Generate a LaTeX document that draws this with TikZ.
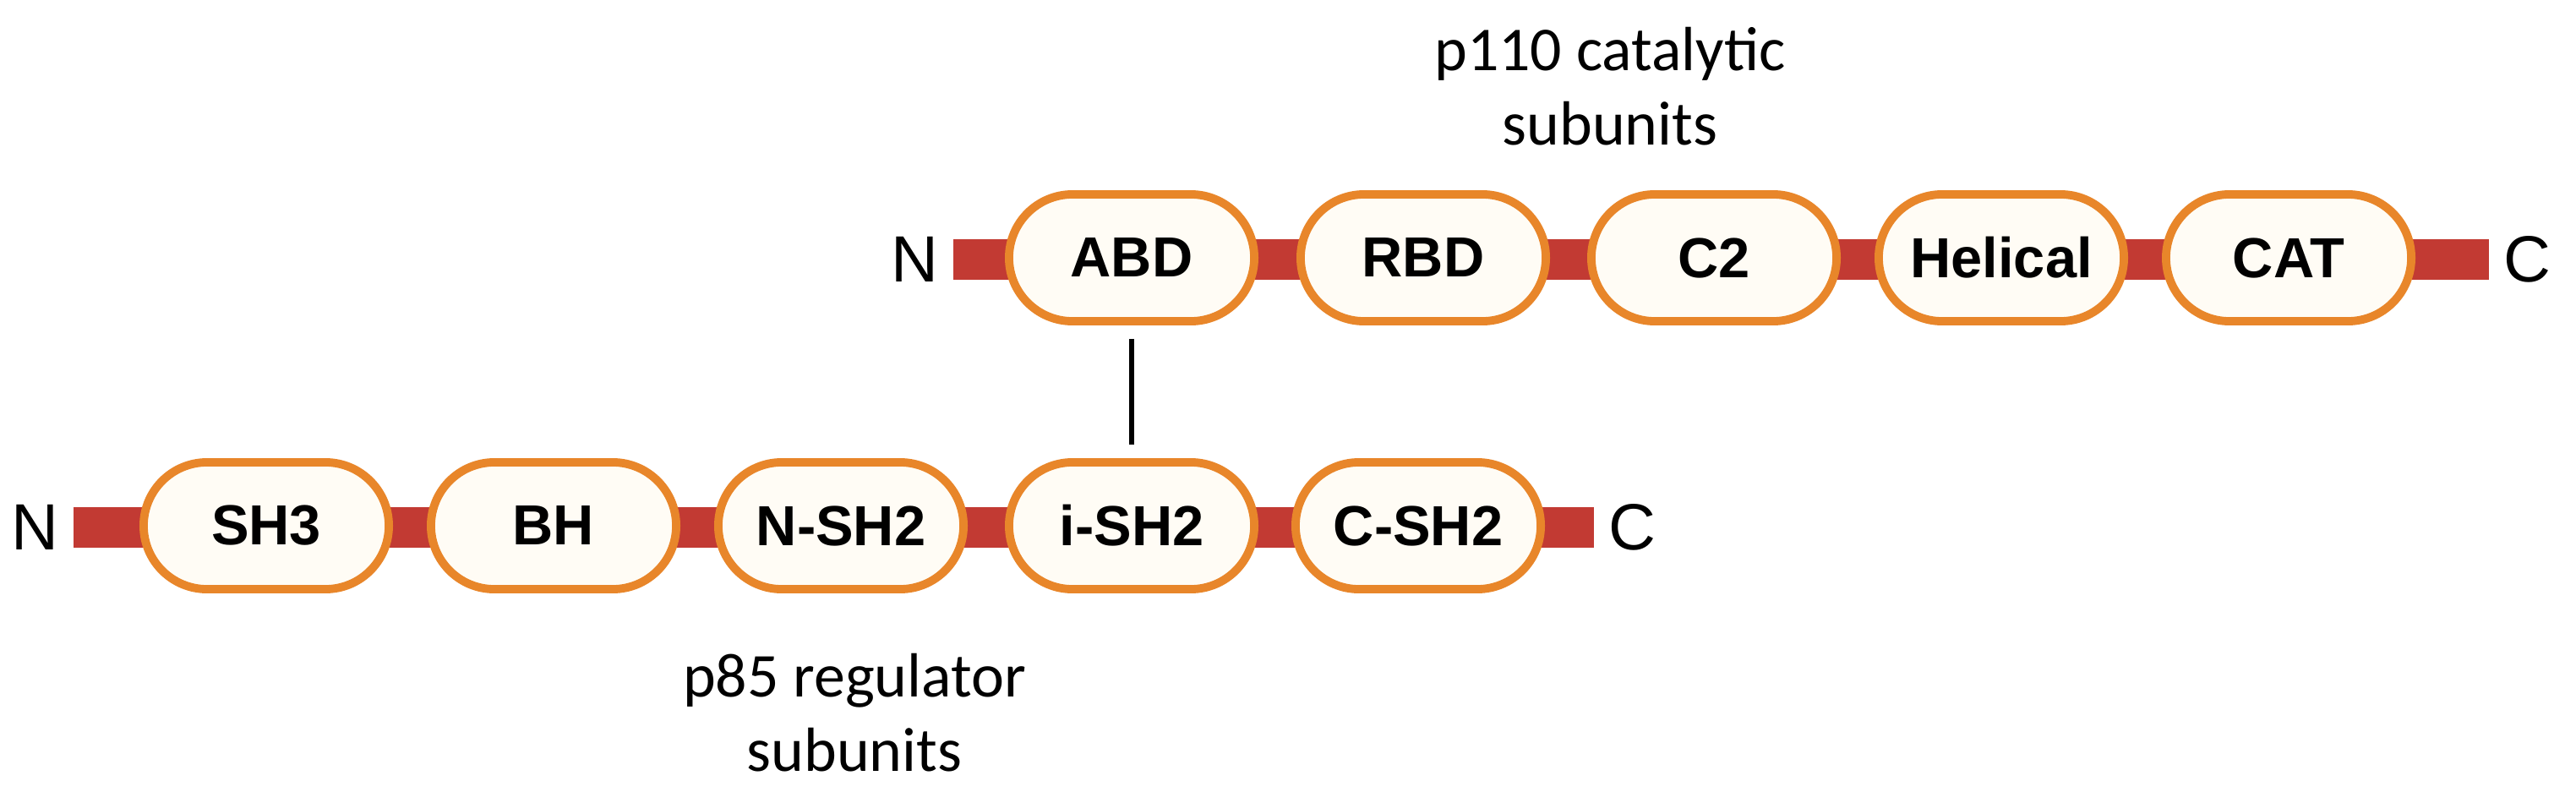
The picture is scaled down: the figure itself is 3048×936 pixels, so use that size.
\documentclass[tikz,border=0pt]{standalone}
\usepackage{fontspec}
\setmainfont{Liberation Sans}
\newfontfamily\lblfont{Carlito}
\usetikzlibrary{positioning}
\definecolor{domorange}{HTML}{E8862A}
\definecolor{domfill}{HTML}{FFFCF5}
\definecolor{chainred}{HTML}{C23A33}
\tikzset{
  protdomain/.style={draw=domorange, fill=domfill, line width=2.8pt, rounded corners=0.75cm,
    minimum width=2.9cm, minimum height=1.5cm, font=\fontsize{19}{21}\selectfont\bfseries},
  backbone/.style={chainred, line width=0.47cm},
  term/.style={font=\fontsize{22}{24}\selectfont},
  sublabel/.style={font=\lblfont\fontsize{21}{25}\selectfont, align=center}
}
\begin{document}
\begin{tikzpicture}[x=0.01cm, y=-0.01cm]
\useasboundingbox (0,0) rectangle (3048,936);

% --- p110 catalytic subunits ---
\coordinate (topstart) at (1128,307);
\coordinate (topend) at (2945,307);
\draw[backbone] (topstart) -- (topend);
\node[term, left=0.05cm of topstart] (topN) {N};
\node[term, right=0.05cm of topend] (topC) {C};
\node[protdomain] (abd) at (1339,305) {ABD};
\node[protdomain] (rbd) at (1684,305) {RBD};
\node[protdomain] (c2) at (2028,305) {C2};
\node[protdomain] (helical) at (2368,305) {Helical};
\node[protdomain] (cat) at (2708,305) {CAT};
\node[sublabel] (p110) at (1905,102) {p110 catalytic\\subunits};

% --- p85 regulator subunits ---
\coordinate (botstart) at (87,624);
\coordinate (botend) at (1886,624);
\draw[backbone] (botstart) -- (botend);
\node[term, left=0.05cm of botstart] (botN) {N};
\node[term, right=0.05cm of botend] (botC) {C};
\node[protdomain] (sh3) at (315,622) {SH3};
\node[protdomain] (bh) at (655,622) {BH};
\node[protdomain] (nsh2) at (995,622) {N-SH2};
\node[protdomain] (ish2) at (1339,622) {i-SH2};
\node[protdomain] (csh2) at (1678,622) {C-SH2};
\node[sublabel] (p85) at (1011,843) {p85 regulator\\subunits};

% binding of ABD and i-SH2
\draw[line width=1.8pt] ([yshift=-0.16cm]abd.south) -- ([yshift=0.16cm]ish2.north);

\end{tikzpicture}
\end{document}
